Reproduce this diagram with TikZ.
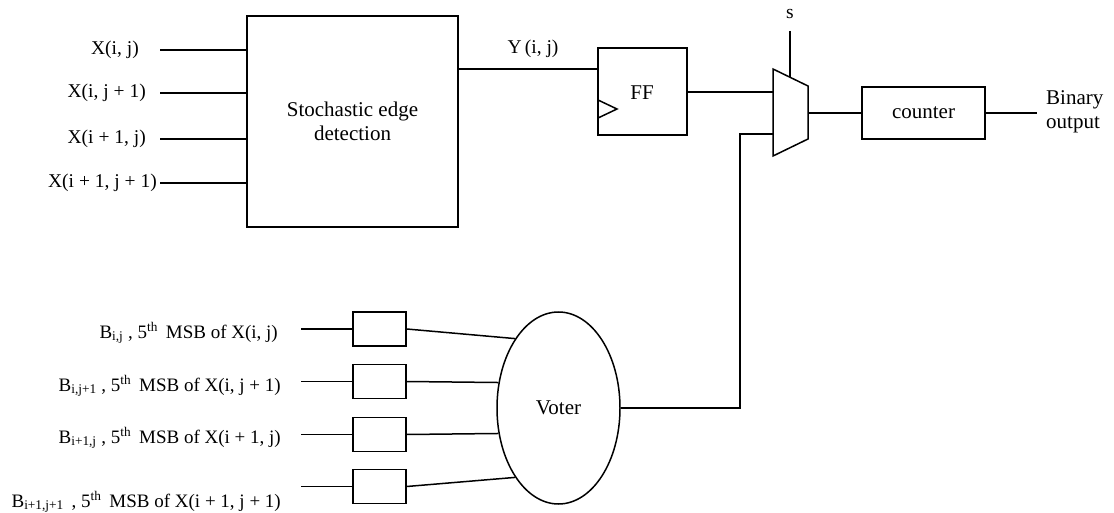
\documentclass[tikz,border=0pt]{standalone}
\usepackage{fontspec}
\setmainfont{Liberation Serif}
\usetikzlibrary{shapes.geometric}
\begin{document}
\begin{tikzpicture}[x=1pt,y=-1pt,
  every node/.style={font=\fontsize{19.5}{22}\selectfont},
  wire/.style={line width=1.5pt},
  bigtext/.style={font=\fontsize{21}{24}\selectfont},
  blockbox/.style={draw,line width=1.5pt,inner sep=0pt,align=center},
  lbl/.style={inner sep=0pt},
  blbl/.style={inner sep=0pt,font=\fontsize{19}{22}\selectfont}]
\useasboundingbox (0,0) rectangle (1114,513);
% main blocks
\node[blockbox,bigtext,minimum width=211pt,minimum height=211pt] (sed) at (352.5,121.5) {Stochastic edge\\detection};
\node[blockbox,minimum width=89pt,minimum height=87pt] (ff) at (642.5,91.5) {};
\node[lbl,bigtext] (fftext) at (642,93) {FF};
\node[blockbox,bigtext,minimum width=123pt,minimum height=52pt] (cnt) at (923.5,113) {counter};
\node[draw,ellipse,bigtext,line width=1.5pt,inner sep=0pt,minimum width=123pt,minimum height=192pt] (voter) at (558.5,408) {Voter};
% clock triangle
\draw[wire] (598,100) -- (617,109) -- (598,118);
% mux
\coordinate (m1) at (773,69);
\coordinate (m2) at (808,86);
\coordinate (m3) at (808,139);
\coordinate (m4) at (773,156);
\draw[wire,line join=miter] (m1) -- (m2) -- (m3) -- (m4) -- cycle;
\coordinate (msel) at (790,77.3);
\coordinate (stop) at (790,31);
\node[lbl] (slbl) at (790,14) {s};
\draw[wire] (stop) -- (msel);
% input labels
\node[lbl,anchor=east] (lx1) at (139,50) {X(i, j)};
\node[lbl,anchor=east] (lx2) at (146,93) {X(i, j + 1)};
\node[lbl,anchor=east] (lx3) at (146,139) {X(i + 1, j)};
\node[lbl,anchor=east] (lx4) at (157,183) {X(i + 1, j + 1)};
\foreach \i/\y in {1/50,2/93,3/139,4/183}{
  \coordinate (xin\i) at (160,\y);
  \draw[wire] (xin\i) -- (xin\i -| sed.west);
}
% Y(i,j)
\coordinate (yst) at (458,69);
\draw[wire] (yst) -- (yst -| ff.west);
\node[lbl,anchor=base] (ylbl) at (533,54) {Y\,(i, j)};
% FF to mux
\coordinate (ffo) at (687,92);
\draw[wire] (ffo) -- (ffo -| m1);
% mux to counter
\coordinate (mo) at (808,113);
\draw[wire] (mo) -- (cnt.west);
\coordinate (bo) at (1037,113);
\draw[wire] (cnt.east) -- (bo);
\node[lbl,bigtext,align=left,anchor=west] (blbl) at (1046,112) {Binary\\output};
% bit boxes
\foreach \i/\y in {1/329,2/381.5,3/434.5,4/486.5}{
  \node[blockbox,minimum width=53pt,minimum height=34pt] (bb\i) at (379.5,\y) {};
  \coordinate (bin\i) at (301,\y);
  \draw[wire] (bin\i) -- (bb\i.west);
}
\draw[wire] (bb1.east) -- (voter.122);
\draw[wire] (bb2.east) -- (voter.157);
\draw[wire] (bb3.east) -- (voter.203);
\draw[wire] (bb4.east) -- (voter.238);
% bit labels
\node[blbl,anchor=base east] (lb1) at (278,338) {B\textsubscript{i,j} , 5\textsuperscript{th}\, MSB of X(i, j)};
\node[blbl,anchor=base east] (lb2) at (281,391) {B\textsubscript{i,j+1} , 5\textsuperscript{th}\, MSB of X(i, j + 1)};
\node[blbl,anchor=base east] (lb3) at (281,443) {B\textsubscript{i+1,j} , 5\textsuperscript{th}\, MSB of X(i + 1, j)};
\node[blbl,anchor=base east] (lb4) at (281,507) {B\textsubscript{i+1,j+1}\, , 5\textsuperscript{th}\, MSB of X(i + 1, j + 1)};
% voter to mux
\coordinate (vk) at (740,408);
\coordinate (mk) at (740,134);
\draw[wire] (voter.east) -- (vk) -- (mk) -- (mk -| m1);
\end{tikzpicture}
\end{document}
